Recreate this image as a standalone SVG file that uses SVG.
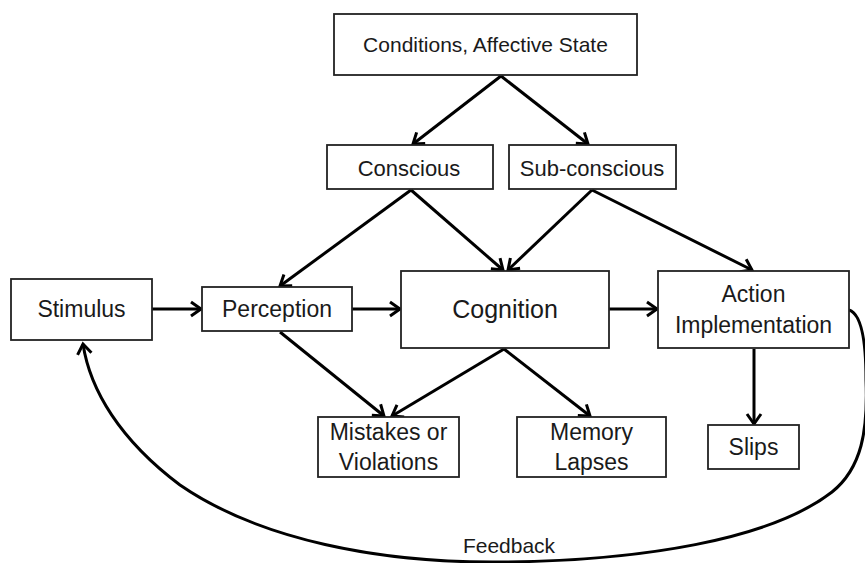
<svg xmlns="http://www.w3.org/2000/svg" width="865" height="563" viewBox="0 0 865 563">
<style>
.box{fill:#fff;stroke:#222;stroke-width:1.8}
.t{font-family:"Liberation Sans",Arial,sans-serif;font-size:23px;fill:#1a1a1a;text-anchor:middle}
.s21{font-size:21px}
.s22{font-size:22px}
.s25{font-size:25px}
.c{fill:none;stroke:#000;stroke-width:3}
</style>
<defs>
<marker id="ah" markerUnits="userSpaceOnUse" markerWidth="20" markerHeight="20" refX="0" refY="0" viewBox="-12 -10 14 20" orient="auto">
<path d="M-10,-7 L0,0 L-10,7" fill="none" stroke="#000" stroke-width="3"/>
</marker>
</defs>
<rect width="865" height="563" fill="#fff"/>
<g id="connectors">
<path class="c" d="M501,76 L413,144" marker-end="url(#ah)"/>
<path class="c" d="M501,76 L588,144" marker-end="url(#ah)"/>
<path class="c" d="M411,190 L280,286" marker-end="url(#ah)"/>
<path class="c" d="M411,190 L503,270" marker-end="url(#ah)"/>
<path class="c" d="M592,190 L508,270" marker-end="url(#ah)"/>
<path class="c" d="M592,190 L752,270" marker-end="url(#ah)"/>
<path class="c" d="M152,309 L201,309" marker-end="url(#ah)"/>
<path class="c" d="M352,309 L400,309" marker-end="url(#ah)"/>
<path class="c" d="M609,309 L657,309" marker-end="url(#ah)"/>
<path class="c" d="M280,332 L384,416" marker-end="url(#ah)"/>
<path class="c" d="M504,349 L392,416" marker-end="url(#ah)"/>
<path class="c" d="M504,349 L590,416" marker-end="url(#ah)"/>
<path class="c" d="M754,349 L754,424" marker-end="url(#ah)"/>
<path class="c" d="M849,310 C862,314 866,345 866,380 C868,430 862,468 832,492 C770,540 640,561 500,562 C380,563 260,540 180,485 C120,440 90,390 83,344" marker-end="url(#ah)"/>
<text class="t s21" x="509" y="553">Feedback</text>
</g>
<g id="conditions"><rect class="box" x="334" y="14" width="303" height="61"/><text class="t s21" x="485.5" y="52">Conditions, Affective State</text></g>
<g id="conscious"><rect class="box" x="327" y="145" width="166" height="44"/><text class="t s22" x="409" y="176">Conscious</text></g>
<g id="subconscious"><rect class="box" x="509" y="145" width="167" height="44"/><text class="t s22" x="592" y="176">Sub-conscious</text></g>
<g id="stimulus"><rect class="box" x="11" y="279" width="141" height="61"/><text class="t" x="81.5" y="317">Stimulus</text></g>
<g id="perception"><rect class="box" x="202" y="287" width="150" height="44"/><text class="t" x="277" y="317">Perception</text></g>
<g id="cognition"><rect class="box" x="401" y="271" width="208" height="77"/><text class="t s25" x="505" y="318">Cognition</text></g>
<g id="action"><rect class="box" x="658" y="271" width="191" height="77"/><text class="t" x="753.5" y="302">Action</text><text class="t" x="753.5" y="333">Implementation</text></g>
<g id="mistakes"><rect class="box" x="318" y="417" width="141" height="60"/><text class="t" x="388.5" y="440">Mistakes or</text><text class="t" x="388.5" y="470">Violations</text></g>
<g id="memory"><rect class="box" x="517" y="417" width="149" height="60"/><text class="t" x="591.5" y="440">Memory</text><text class="t" x="591.5" y="470">Lapses</text></g>
<g id="slips"><rect class="box" x="708" y="425" width="91" height="44"/><text class="t" x="753.5" y="455">Slips</text></g>
</svg>
